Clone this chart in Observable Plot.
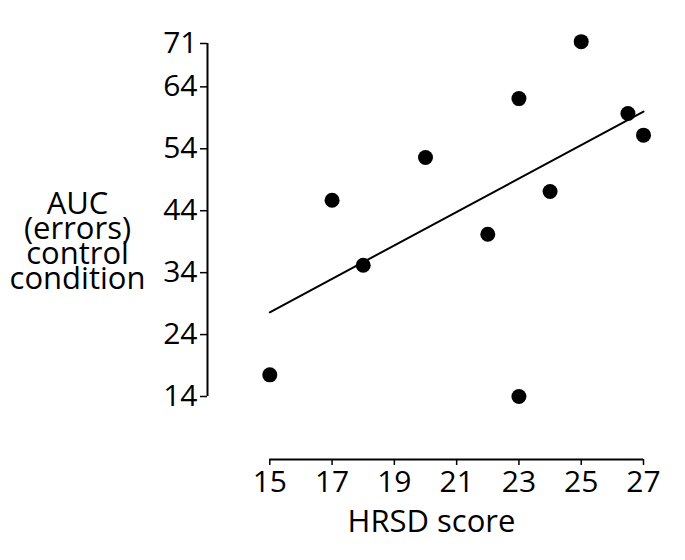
<!DOCTYPE html>
<html>
<head>
<meta charset="utf-8">
<script src="https://cdn.jsdelivr.net/npm/d3@7"></script>
<script src="https://cdn.jsdelivr.net/npm/@observablehq/plot@0.6"></script>
<style>
  html, body { margin: 0; padding: 0; background: #fff; }
  #chart svg { display: block; }
</style>
</head>
<body>
<div id="chart"></div>
<script>
// Data
const hrsd = [15, 17, 18, 20, 22, 23, 23, 24, 25, 26.5, 27];
const auc  = [17.5, 45.7, 35.2, 52.6, 40.2, 62.1, 14, 47.1, 71.3, 59.7, 56.2];
const fitX = [15, 27];
const fitY = [27.6, 60];
const xTicks = [15, 17, 19, 21, 23, 25, 27];
const yTicks = [14, 24, 34, 44, 54, 64, 71];
const xLabel = "HRSD score";
const yLabel = "AUC\n(errors)\ncontrol\ncondition";

const points = hrsd.map((x, i) => ({x, y: auc[i]}));
const fit = fitX.map((x, i) => ({x, y: fitY[i]}));

const font = "'Open Sans', sans-serif";
const yBase = 3.83;

const chart = Plot.plot({
  width: 685,
  height: 560,
  marginLeft: 207,
  marginRight: 42,
  marginTop: 43,
  marginBottom: 101,
  style: {fontFamily: font, color: "#000", background: "#fff"},
  x: {domain: [13, 27], axis: null},
  y: {domain: [yBase, 71], axis: null},
  marks: [
    Plot.ruleX([13], {y1: yTicks[0], y2: yTicks[yTicks.length - 1], stroke: "#000", strokeWidth: 2}),
    Plot.ruleY([yBase], {x1: xTicks[0], x2: xTicks[xTicks.length - 1], stroke: "#000", strokeWidth: 2}),
    Plot.axisY({ticks: yTicks, tickSize: 7, tickPadding: 3, fontSize: 30, label: null, strokeWidth: 1.5, tickFormat: d => String(d)}),
    Plot.axisX({ticks: xTicks, tickSize: 6, tickPadding: 5, fontSize: 30, label: null, strokeWidth: 1.5, tickFormat: d => String(d)}),
    Plot.line(fit, {x: "x", y: "y", stroke: "#000", strokeWidth: 2}),
    Plot.dot(points, {x: "x", y: "y", r: 7.5, fill: "#000", stroke: null}),
    Plot.text([yLabel], {frameAnchor: "left", dx: -130, dy: -8, fontSize: 31, lineHeight: 0.81, textAnchor: "middle", fill: "#000"}),
    Plot.text([xLabel], {frameAnchor: "bottom", dx: 6, dy: 72, fontSize: 31, textAnchor: "middle", fill: "#000"})
  ]
});
document.getElementById("chart").appendChild(chart);
</script>
</body>
</html>
